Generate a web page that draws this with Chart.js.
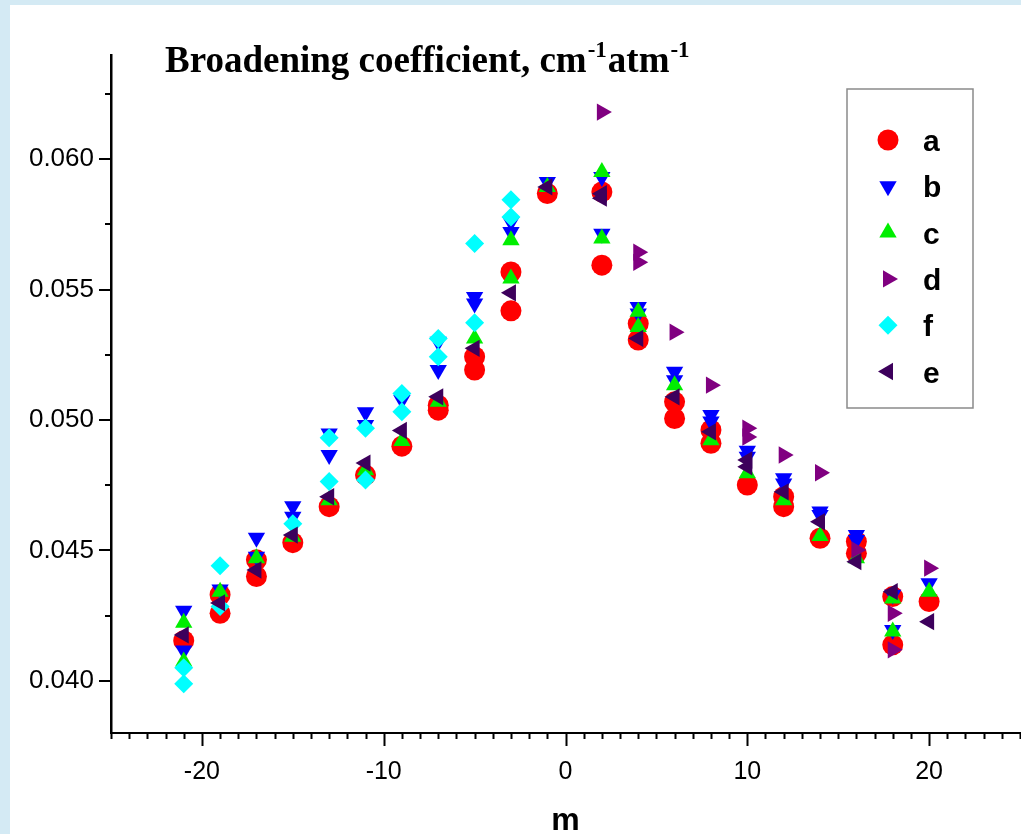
<!DOCTYPE html>
<html>
<head>
<meta charset="utf-8">
<title>Broadening coefficient</title>
<script src="https://cdn.jsdelivr.net/npm/chart.js@4.4.1/dist/chart.umd.min.js"></script>
<style>
  html, body { margin: 0; padding: 0; background: #d4eaf4; }
  #wrap { width: 1021px; height: 834px; }
</style>
</head>
<body>
<div id="wrap"><canvas id="chart" width="1021" height="834"></canvas></div>
<script>
// Values: rotational quantum number m and broadening coefficient
const aM = [-21, -19, -19, -17, -17, -15, -13, -11, -9, -7, -7, -5, -5, -3, -3, -1, 2, 2, 4, 4, 6, 6, 8, 8, 10, 12, 12, 14, 16, 16, 18, 18, 20];
const aVal = [0.04154, 0.04330, 0.04259, 0.04464, 0.04400, 0.04530, 0.04668, 0.04789, 0.04900, 0.05057, 0.05038, 0.05243, 0.05192, 0.05568, 0.05419, 0.05869, 0.05875, 0.05594, 0.05370, 0.05307, 0.05070, 0.05006, 0.04962, 0.04911, 0.04751, 0.04706, 0.04668, 0.04547, 0.04534, 0.04489, 0.04323, 0.04138, 0.04304];

const bM = [-21, -21, -19, -17, -17, -15, -15, -13, -13, -11, -11, -9, -7, -7, -5, -5, -3, -3, -1, 2, 2, 4, 4, 6, 6, 8, 8, 10, 10, 12, 12, 14, 14, 16, 16, 18, 18, 20];
const bVal = [0.04269, 0.04116, 0.04350, 0.04549, 0.04476, 0.04670, 0.04629, 0.04949, 0.04866, 0.05030, 0.04981, 0.05077, 0.05300, 0.05192, 0.05472, 0.05447, 0.05760, 0.05721, 0.05913, 0.05932, 0.05715, 0.05434, 0.05409, 0.05185, 0.05153, 0.05019, 0.04995, 0.04882, 0.04859, 0.04777, 0.04757, 0.04649, 0.04636, 0.04559, 0.04540, 0.04330, 0.04195, 0.04374];

const cM = [-21, -21, -19, -17, -15, -13, -11, -9, -7, -5, -3, -3, -1, 2, 2, 4, 4, 6, 8, 10, 12, 14, 16, 18, 18, 20];
const cVal = [0.04223, 0.04074, 0.04342, 0.04470, 0.04553, 0.04693, 0.04808, 0.04920, 0.05070, 0.05313, 0.05690, 0.05543, 0.05894, 0.05951, 0.05696, 0.05415, 0.05357, 0.05134, 0.04923, 0.04796, 0.04693, 0.04555, 0.04470, 0.04316, 0.04189, 0.04342];

const dM = [2, 4, 4, 6, 8, 10, 10, 12, 14, 16, 18, 18, 20];
const dVal = [0.06181, 0.05644, 0.05605, 0.05337, 0.05134, 0.04969, 0.04935, 0.04866, 0.04798, 0.04502, 0.04259, 0.04119, 0.04432];

const fM = [-21, -21, -19, -19, -15, -13, -13, -11, -11, -9, -9, -7, -7, -5, -5, -3, -3];
const fVal = [0.04050, 0.03989, 0.04441, 0.04285, 0.04602, 0.04932, 0.04764, 0.04969, 0.04770, 0.05102, 0.05032, 0.05313, 0.05243, 0.05677, 0.05373, 0.05845, 0.05779];

const eM = [-21, -19, -17, -15, -13, -11, -9, -7, -5, -3, -1, 2, 2, 4, 6, 8, 10, 10, 12, 14, 16, 18, 20];
const eVal = [0.04176, 0.04299, 0.04425, 0.04559, 0.04706, 0.04835, 0.04960, 0.05089, 0.05275, 0.05488, 0.05894, 0.05868, 0.05851, 0.05313, 0.05089, 0.04955, 0.04847, 0.04821, 0.04725, 0.04610, 0.04457, 0.04342, 0.04227];

// Axis ranges and ticks
const xRange = [-25, 25];
const yRange = [0.038, 0.064];
const xMinorStep = 1;
const xMajorStep = 10;
const yMinorStep = 0.0025;
const yMajorStep = 0.005;

const titleMain = ['Broadening coefficient, cm', 'atm'];
const titleSup = '-1';
const xTitle = 'm';

const SANS = "'Liberation Sans', Arial, sans-serif";
const SERIF = "'Liberation Serif', 'Times New Roman', serif";

function toPoints(ms, vals) {
  return ms.map((m, i) => ({ x: m, y: vals[i] }));
}

function isMajor(value, step) {
  const r = value / step;
  return Math.abs(r - Math.round(r)) < 1e-6;
}

// light blue frame round the white page, as in the scanned figure
const backgroundPlugin = {
  id: 'background',
  beforeDraw(chart) {
    const ctx = chart.ctx;
    ctx.save();
    ctx.fillStyle = '#d4eaf4';
    ctx.fillRect(0, 0, chart.width, chart.height);
    ctx.fillStyle = '#ffffff';
    ctx.fillRect(10, 5, chart.width - 10, chart.height - 5);
    ctx.restore();
  },
};

// Origin-style outward ticks: long for majors, short for minors
const ticksPlugin = {
  id: 'originTicks',
  afterDraw(chart) {
    const ctx = chart.ctx;
    const xs = chart.scales.x;
    const ys = chart.scales.y;
    ctx.save();
    ctx.strokeStyle = '#000';
    ctx.lineWidth = 2;
    ctx.beginPath();
    xs.ticks.forEach((t) => {
      const px = Math.round(xs.getPixelForValue(t.value)) + 0.5;
      const len = isMajor(t.value, xMajorStep) ? 13 : 6;
      ctx.moveTo(px, xs.top);
      ctx.lineTo(px, xs.top + len);
    });
    ys.ticks.forEach((t) => {
      const py = Math.round(ys.getPixelForValue(t.value));
      const len = isMajor(t.value, yMajorStep) ? 12 : 6;
      ctx.moveTo(ys.right, py);
      ctx.lineTo(ys.right - len, py);
    });
    ctx.stroke();

    // title with superscripts
    ctx.fillStyle = '#000';
    ctx.textBaseline = 'alphabetic';
    ctx.textAlign = 'left';
    let x = 165;
    const y = 72;
    const bigFont = 'bold 37px ' + SERIF;
    const supFont = 'bold 23px ' + SERIF;
    titleMain.forEach((part) => {
      ctx.font = bigFont;
      ctx.fillText(part, x, y);
      x += ctx.measureText(part).width + 1;
      ctx.font = supFont;
      ctx.fillText(titleSup, x, y - 15);
      x += ctx.measureText(titleSup).width + 1;
    });

    // x axis title
    ctx.font = 'bold 32px ' + SANS;
    ctx.textAlign = 'center';
    ctx.fillText(xTitle, xs.getPixelForValue(0), 830);
    ctx.restore();
  },
};

// boxed legend inside the plot, drawn with the datasets' own point styles
const legendPlugin = {
  id: 'boxLegend',
  afterDraw(chart) {
    const ctx = chart.ctx;
    const left = 847, top = 89, width = 126, height = 319;
    ctx.save();
    ctx.fillStyle = '#fff';
    ctx.fillRect(left, top, width, height);
    ctx.strokeStyle = '#8a8a8a';
    ctx.lineWidth = 1.5;
    ctx.strokeRect(left, top, width, height);
    ctx.font = 'bold 30px ' + SANS;
    ctx.textAlign = 'left';
    ctx.textBaseline = 'alphabetic';
    chart.data.datasets.forEach((ds, i) => {
      const cy = 140 + i * 46.3;
      ctx.fillStyle = ds.backgroundColor;
      const opts = {
        pointStyle: ds.pointStyle,
        radius: ds.pointRadius,
        rotation: ds.pointRotation || 0,
        borderWidth: 0,
      };
      if (Chart.helpers && Chart.helpers.drawPoint) {
        Chart.helpers.drawPoint(ctx, opts, 888, cy);
      }
      ctx.fillStyle = '#000';
      ctx.fillText(ds.label, 923, cy + 11);
    });
    ctx.restore();
  },
};

function makeSet(label, ms, vals, color, style, rotation, radius, order) {
  return {
    label,
    data: toPoints(ms, vals),
    backgroundColor: color,
    borderColor: color,
    borderWidth: 0,
    pointStyle: style,
    pointRotation: rotation,
    pointRadius: radius,
    pointHoverRadius: radius,
    order,
  };
}

const datasets = [
  makeSet('a', aM, aVal, '#ff0000', 'circle', 0, 10.5, 6),
  makeSet('b', bM, bVal, '#0000ff', 'triangle', 180, 10, 5),
  makeSet('c', cM, cVal, '#00ee00', 'triangle', 0, 10, 4),
  makeSet('d', dM, dVal, '#800080', 'triangle', 90, 10, 3),
  makeSet('f', fM, fVal, '#00ffff', 'rectRot', 0, 9.5, 2),
  makeSet('e', eM, eVal, '#3d005c', 'triangle', 270, 10, 1),
];

new Chart(document.getElementById('chart'), {
  type: 'scatter',
  data: { datasets },
  plugins: [backgroundPlugin, ticksPlugin, legendPlugin],
  options: {
    responsive: false,
    animation: false,
    layout: { autoPadding: false, padding: { left: 0, top: 55, right: 1, bottom: 0 } },
    plugins: {
      legend: { display: false },
      tooltip: { enabled: false },
    },
    scales: {
      x: {
        type: 'linear',
        min: xRange[0],
        max: xRange[1],
        afterFit: (s) => { s.height = 101; },
        // invisible tick marks only set the gap to the labels; visible ones come from the plugin
        grid: { display: true, drawOnChartArea: false, drawTicks: true, tickLength: 24, tickColor: 'rgba(0,0,0,0)' },
        border: { display: true, color: '#000', width: 2 },
        ticks: {
          stepSize: xMinorStep,
          autoSkip: false,
          maxRotation: 0,
          padding: 0,
          color: '#000',
          font: { family: SANS, size: 25 },
          callback: (v) => (isMajor(v, xMajorStep) ? String(v) : ''),
        },
      },
      y: {
        type: 'linear',
        min: yRange[0],
        max: yRange[1],
        afterFit: (s) => { s.width = 111; },
        grid: { display: true, drawOnChartArea: false, drawTicks: true, tickLength: 17, tickColor: 'rgba(0,0,0,0)' },
        border: { display: true, color: '#000', width: 2.5 },
        ticks: {
          stepSize: yMinorStep,
          includeBounds: false,
          autoSkip: false,
          padding: 0,
          color: '#000',
          font: { family: SANS, size: 26 },
          callback: (v) => (isMajor(v, yMajorStep) ? v.toFixed(3) : ''),
        },
      },
    },
  },
});
</script>
</body>
</html>
